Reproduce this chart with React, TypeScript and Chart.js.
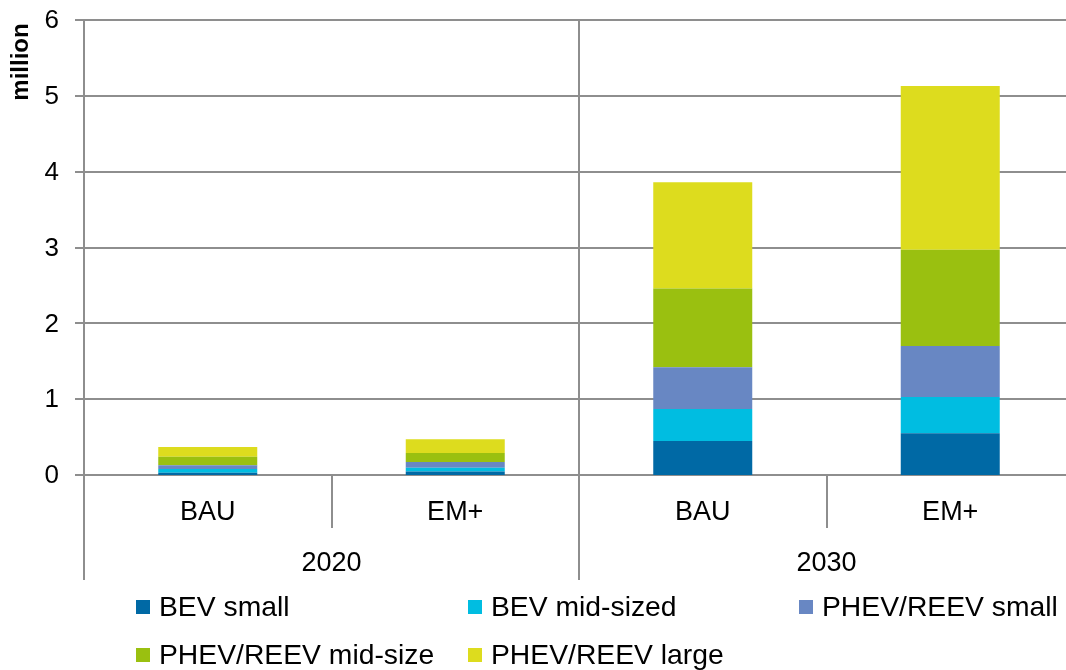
import React, { useEffect, useRef } from "react";
import { Chart, registerables } from "chart.js";

Chart.register(...registerables);

const scenarios = ["BAU", "EM+", "BAU", "EM+"];
const years = ["2020", "2030"];
const yTicks = [0, 1, 2, 3, 4, 5, 6];
const yUnit = "million";

const bevSmall = [0.03, 0.045, 0.45, 0.55];
const bevMid = [0.05, 0.05, 0.42, 0.48];
const phevSmall = [0.05, 0.075, 0.55, 0.67];
const phevMid = [0.11, 0.12, 1.04, 1.27];
const phevLarge = [0.13, 0.18, 1.4, 2.16];

const seriesNames = [
  "BEV small",
  "BEV mid-sized",
  "PHEV/REEV small",
  "PHEV/REEV mid-size",
  "PHEV/REEV large",
];
const seriesColors = ["#0069a5", "#00bde1", "#6887c3", "#9ac010", "#dddc1e"];
const seriesData = [bevSmall, bevMid, phevSmall, phevMid, phevLarge];

const FONT = "'Liberation Sans', Arial, sans-serif";
const GRID = "#8e8e8e";

const overlayPlugin = {
  id: "overlay",
  beforeDatasetsDraw(chart: any) {
    const ctx = chart.ctx;
    const { left, right, top, bottom } = chart.chartArea;
    const y = chart.scales.y;
    const x = chart.scales.x;
    ctx.save();
    ctx.fillStyle = GRID;
    yTicks.forEach((v) => {
      const py = Math.round(y.getPixelForValue(v));
      ctx.fillRect(left - 9, py - 1, right - left + 9, 2);
    });
    const bottomAll = bottom + 105;
    ctx.fillRect(left - 1, top, 2, bottomAll - top);
    const sep = Math.round((x.getPixelForValue(1) + x.getPixelForValue(2)) / 2);
    ctx.fillRect(sep - 1, top, 2, bottomAll - top);
    [0, 2].forEach((i) => {
      const s = Math.round((x.getPixelForValue(i) + x.getPixelForValue(i + 1)) / 2);
      ctx.fillRect(s - 1, bottom, 2, 53);
    });
    ctx.restore();
  },
  afterDraw(chart: any) {
    const ctx = chart.ctx;
    const { left, bottom } = chart.chartArea;
    const y = chart.scales.y;
    const x = chart.scales.x;
    ctx.save();
    ctx.fillStyle = "#000";
    ctx.font = `26px ${FONT}`;
    ctx.textAlign = "right";
    ctx.textBaseline = "middle";
    yTicks.forEach((v) => {
      ctx.fillText(String(v), left - 25, y.getPixelForValue(v) + 1);
    });
    ctx.save();
    ctx.font = `bold 24px ${FONT}`;
    ctx.translate(21, 62);
    ctx.rotate(-Math.PI / 2);
    ctx.textAlign = "center";
    ctx.textBaseline = "middle";
    ctx.fillText(yUnit, 0, 0);
    ctx.restore();
    ctx.font = `27px ${FONT}`;
    ctx.textAlign = "center";
    ctx.textBaseline = "middle";
    scenarios.forEach((s, i) => {
      ctx.fillText(s, x.getPixelForValue(i), bottom + 38);
    });
    years.forEach((yr, g) => {
      const cx = (x.getPixelForValue(g * 2) + x.getPixelForValue(g * 2 + 1)) / 2;
      ctx.fillText(yr, cx, bottom + 89);
    });
    const cols = [136, 468, 799];
    const rows = [607, 655];
    ctx.font = `28.3px ${FONT}`;
    ctx.textAlign = "left";
    seriesNames.forEach((name, i) => {
      const cx = cols[i % 3];
      const cy = rows[Math.floor(i / 3)];
      ctx.fillStyle = seriesColors[i];
      ctx.fillRect(cx, cy - 7, 14, 14);
      ctx.fillStyle = "#000";
      ctx.fillText(name, cx + 23, cy + 1);
    });
    ctx.restore();
  },
};

export default function App() {
  const ref = useRef<HTMLCanvasElement>(null);
  useEffect(() => {
    if (!ref.current) return;
    const chart = new Chart(ref.current, {
      type: "bar",
      data: {
        labels: scenarios,
        datasets: seriesNames.map((n, i) => ({
          label: n,
          data: seriesData[i],
          backgroundColor: seriesColors[i],
          borderWidth: 0,
          barPercentage: 0.4,
          categoryPercentage: 1,
        })),
      },
      options: {
        animation: false,
        responsive: false,
        maintainAspectRatio: false,
        layout: { padding: { left: 84, top: 20, right: 2, bottom: 195 } },
        plugins: { legend: { display: false }, tooltip: { enabled: false } },
        scales: {
          x: { stacked: true, display: false },
          y: { stacked: true, display: false, min: 0, max: 6 },
        },
      },
      plugins: [overlayPlugin],
    });
    return () => chart.destroy();
  }, []);
  return (
    <div
      style={{
        position: "absolute",
        left: 0,
        top: 0,
        width: 1066,
        height: 670,
        overflow: "hidden",
        background: "#fff",
      }}
    >
      <canvas ref={ref} width={1076} height={670} style={{ display: "block" }} />
    </div>
  );
}
